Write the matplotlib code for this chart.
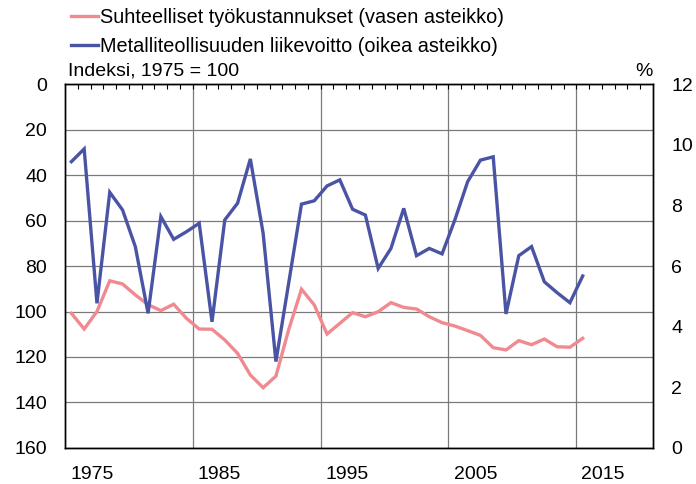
import matplotlib
matplotlib.use("Agg")
import matplotlib.pyplot as plt
import matplotlib.ticker as mticker

plt.rcParams["font.family"] = ["Liberation Sans", "DejaVu Sans"]

years = list(range(1973, 2014))

# Suhteelliset työkustannukset, indeksi 1975 = 100 (vasen asteikko, käänteinen)
labour_costs = [100.8, 107.7, 100.0, 86.5, 87.9, 92.7, 97.0, 99.6, 96.8, 103.0,
                107.7, 107.8, 112.5, 118.4, 127.9, 133.5, 128.4, 108.0, 90.2, 97.1,
                109.9, 105.2, 100.5, 102.3, 100.1, 96.1, 98.2, 98.9, 102.3, 104.9,
                106.4, 108.4, 110.5, 115.9, 116.9, 112.8, 114.6, 112.1, 115.5, 115.7,
                111.8]

# Metalliteollisuuden liikevoitto, % (oikea asteikko)
profit = [9.44, 9.86, 4.77, 8.43, 7.85, 6.64, 4.44, 7.63, 6.88, 7.13,
          7.41, 4.16, 7.52, 8.07, 9.53, 7.08, 2.85, 5.44, 8.04, 8.15,
          8.64, 8.84, 7.87, 7.68, 5.92, 6.58, 7.90, 6.34, 6.58, 6.40,
          7.52, 8.78, 9.49, 9.60, 4.42, 6.34, 6.64, 5.48, 5.12, 4.79,
          5.67]

tick_years = [1975, 1985, 1995, 2005, 2015]
grid_years = [1983, 1993, 2003, 2013]

pink = "#F08A90"
blue = "#4A54A4"
gridc = "#7a7a7a"

fig = plt.figure(figsize=(6.96, 4.84), dpi=100)
ax = fig.add_axes([0.0934, 0.0744, 0.8448, 0.752])
ax2 = ax.twinx()

l1, = ax.plot(years, labour_costs, color=pink, lw=2.4, solid_joinstyle="miter")
l2, = ax2.plot(years, profit, color=blue, lw=2.4, solid_joinstyle="miter")

ax.set_xlim(1972.5, 2018.5)
ax.set_ylim(160, 0)
ax2.set_ylim(0, 12)

ax.set_yticks(range(0, 161, 20))
ax2.set_yticks(range(0, 13, 2))
ax.set_xticks([y - 0.4 for y in tick_years])
ax.set_xticklabels([str(y) for y in tick_years])
ax.xaxis.set_minor_locator(mticker.FixedLocator([1972.5 + k for k in range(1, 46)]))

ax.tick_params(axis="x", which="major", length=0, pad=13, labelsize=14)
ax.tick_params(axis="x", which="minor", bottom=False, top=True, direction="in", length=3.5, width=0.8)
ax.tick_params(axis="y", length=0, pad=13, labelsize=14)
ax2.tick_params(axis="y", length=0, pad=13, labelsize=14)

ax.grid(axis="y", color=gridc, lw=0.9)
for g in grid_years:
    ax.axvline(g - 0.5, color=gridc, lw=0.9, zorder=0.5)
ax.set_axisbelow(True)

for sp in list(ax.spines.values()) + list(ax2.spines.values()):
    sp.set_linewidth(1.0)
    sp.set_color("black")

fig.text(0.097, 0.835, "Indeksi, 1975 = 100", fontsize=14, ha="left", va="bottom")
fig.text(0.937, 0.835, "%", fontsize=14, ha="right", va="bottom")

fig.legend([l1, l2],
           ["Suhteelliset työkustannukset (vasen asteikko)",
            "Metalliteollisuuden liikevoitto (oikea asteikko)"],
           loc="upper left", bbox_to_anchor=(0.085, 1.008), frameon=False,
           fontsize=14.3, handlelength=1.35, handletextpad=0.1, labelspacing=0.5,
           borderaxespad=0.2)

fig.savefig("out.png", dpi=100)
